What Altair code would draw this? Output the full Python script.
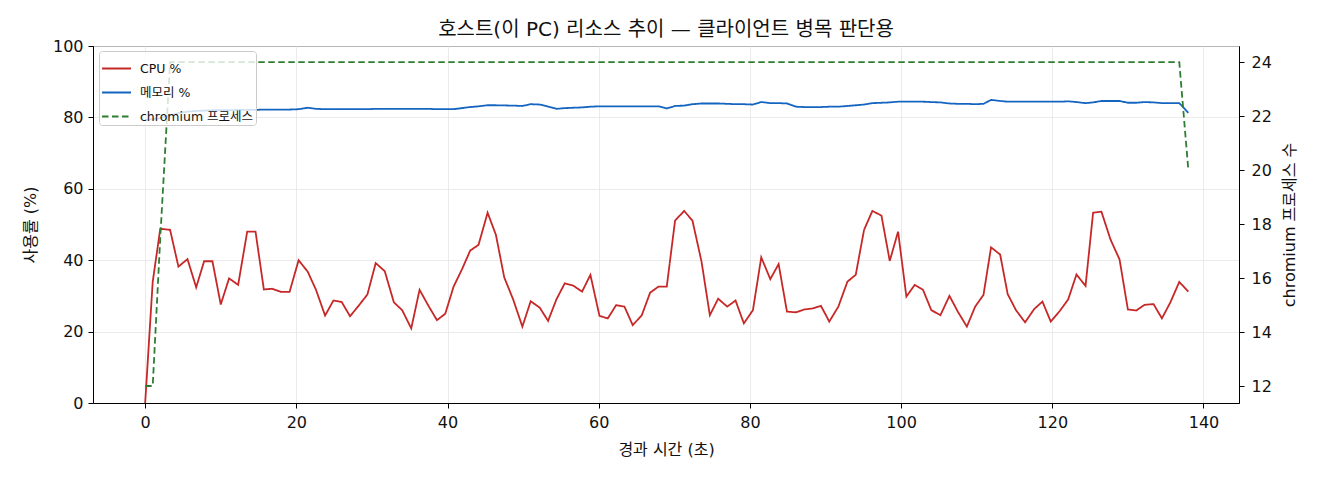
import altair as alt
import pandas as pd

# elapsed seconds of each sample
elapsed = [0.0, 1.0, 2.0, 3.3, 4.4, 5.6, 6.75, 7.8, 8.9, 10.0,
           11.1, 12.3, 13.5, 14.6, 15.7, 16.8, 18.0, 19.1, 20.3, 21.5,
           22.6, 23.8, 24.9, 26.0, 27.1, 28.3, 29.4, 30.5, 31.7, 32.9,
           34.0, 35.2, 36.3, 37.4, 38.6, 39.7, 40.8, 41.9, 43.0, 44.1,
           45.3, 46.4, 47.5, 48.7, 49.9, 51.0, 52.2, 53.3, 54.4, 55.5,
           56.6, 57.8, 58.9, 60.1, 61.2, 62.3, 63.4, 64.5, 65.7, 66.8,
           67.9, 69.0, 70.1, 71.3, 72.4, 73.6, 74.7, 75.8, 77.0, 78.1,
           79.2, 80.4, 81.5, 82.7, 83.8, 84.9, 86.1, 87.2, 88.3, 89.4,
           90.5, 91.7, 92.9, 94.0, 95.1, 96.2, 97.4, 98.5, 99.6, 100.7,
           101.8, 102.9, 104.0, 105.2, 106.4, 107.5, 108.7, 109.8, 110.9, 111.9,
           113.1, 114.1, 115.2, 116.4, 117.6, 118.7, 119.8, 121.0, 122.1, 123.2,
           124.4, 125.4, 126.5, 127.7, 128.9, 130.0, 131.1, 132.2, 133.4, 134.5,
           135.6, 136.8, 138.0]

cpu = [0.0, 34.0, 48.8, 48.5, 38.2, 40.3, 32.4, 39.7, 39.7, 27.6,
       34.9, 33.1, 48.0, 48.0, 31.8, 32.0, 31.1, 31.1, 40.0, 36.8,
       31.7, 24.5, 28.7, 28.3, 24.3, 27.4, 30.4, 39.2, 36.9, 28.2,
       26.0, 20.9, 31.7, 27.5, 23.2, 25.0, 32.6, 37.4, 42.7, 44.3,
       53.3, 47.1, 35.2, 28.9, 21.4, 28.5, 26.7, 23.0, 29.0, 33.5,
       32.9, 31.2, 35.9, 24.4, 23.7, 27.4, 27.0, 21.8, 24.6, 30.9,
       32.6, 32.6, 51.1, 53.8, 51.1, 39.6, 24.6, 29.2, 27.0, 28.7,
       22.3, 26.0, 40.8, 34.7, 38.9, 25.6, 25.4, 26.2, 26.5, 27.2,
       22.8, 27.0, 34.0, 35.9, 48.5, 53.8, 52.5, 39.8, 48.0, 29.8,
       33.1, 31.7, 26.0, 24.6, 30.0, 25.6, 21.4, 27.0, 30.3, 43.6,
       41.6, 30.5, 26.0, 22.6, 26.3, 28.4, 22.8, 25.8, 29.0, 36.0,
       32.8, 53.3, 53.6, 45.8, 40.2, 26.2, 25.9, 27.5, 27.7, 23.7,
       28.1, 33.9, 31.2]

mem = [79.3, 79.5, 79.8, 80.6, 81.2, 81.6, 81.8, 81.9, 82.0, 82.0,
       82.0, 82.1, 82.1, 82.1, 82.2, 82.2, 82.2, 82.2, 82.3, 82.7,
       82.4, 82.3, 82.3, 82.3, 82.3, 82.3, 82.3, 82.4, 82.4, 82.4,
       82.4, 82.4, 82.4, 82.4, 82.3, 82.3, 82.3, 82.6, 82.9, 83.1,
       83.4, 83.4, 83.35, 83.3, 83.2, 83.7, 83.6, 83.0, 82.4, 82.6,
       82.7, 82.8, 83.0, 83.1, 83.1, 83.1, 83.1, 83.1, 83.1, 83.1,
       83.1, 82.5, 83.2, 83.3, 83.7, 83.9, 83.9, 83.9, 83.8, 83.7,
       83.7, 83.6, 84.3, 84.0, 84.0, 83.9, 83.0, 82.9, 82.9, 82.9,
       83.0, 83.0, 83.2, 83.4, 83.6, 84.0, 84.1, 84.2, 84.4, 84.4,
       84.4, 84.4, 84.3, 84.2, 83.9, 83.8, 83.8, 83.7, 83.8, 84.9,
       84.6, 84.4, 84.4, 84.4, 84.4, 84.4, 84.4, 84.4, 84.5, 84.3,
       84.0, 84.2, 84.6, 84.6, 84.6, 84.1, 84.1, 84.3, 84.2, 84.0,
       84.0, 84.0, 81.3]

procs = [12, 12, 17.5] + [24] * 119 + [20]

series_names = ["CPU %", "메모리 %", "chromium 프로세스"]
series_colors = ["#c62828", "#1565c0", "#2e7d32"]
series_dash = [[1, 0], [1, 0], [6.5, 3.5]]

FONT = "DejaVu Sans, Noto Sans CJK KR"

left_df = pd.concat([
    pd.DataFrame({"t": elapsed, "value": cpu, "series": "CPU %"}),
    pd.DataFrame({"t": elapsed, "value": mem, "series": "메모리 %"}),
])
right_df = pd.DataFrame({"t": elapsed, "count": procs, "series": "chromium 프로세스"})

x_enc = alt.X("t:Q", title="경과 시간 (초)",
              scale=alt.Scale(domain=[-6.9, 144.7], nice=False, zero=False),
              axis=alt.Axis(values=list(range(0, 141, 20)), grid=True,
                            labelPadding=6, titlePadding=11))

color_enc = alt.Color("series:N", title=None,
                      scale=alt.Scale(domain=series_names, range=series_colors))
dash_enc = alt.StrokeDash("series:N", title=None,
                          scale=alt.Scale(domain=series_names, range=series_dash))

usage = alt.Chart(left_df).mark_line(strokeWidth=1.8).encode(
    x=x_enc,
    y=alt.Y("value:Q", title="사용률 (%)",
            scale=alt.Scale(domain=[0, 100], nice=False),
            axis=alt.Axis(values=list(range(0, 101, 20)), grid=True,
                          labelPadding=5, titlePadding=14)),
    color=color_enc,
    strokeDash=dash_enc,
)

processes = alt.Chart(right_df).mark_line(strokeWidth=1.8).encode(
    x=x_enc,
    y=alt.Y("count:Q", title="chromium 프로세스 수",
            scale=alt.Scale(domain=[11.37, 24.6], nice=False, zero=False),
            axis=alt.Axis(orient="right", values=list(range(12, 25, 2)), grid=False,
                          labelPadding=7, titleAngle=270, titleBaseline="top",
                          titlePadding=10)),
    color=color_enc,
    strokeDash=dash_enc,
)

chart = alt.layer(usage, processes).resolve_scale(
    y="independent"
).properties(
    width=1146,
    height=357,
    title=alt.TitleParams("호스트(이 PC) 리소스 추이 — 클라이언트 병목 판단용",
                          fontSize=20, fontWeight="normal", font=FONT,
                          color="#111", offset=2, dy=4),
    autosize=alt.AutoSizeParams(type="none"),
    padding={"left": 85, "top": 38, "right": 70, "bottom": 60},
).configure_view(
    stroke="black", strokeWidth=1
).configure_axis(
    labelFont=FONT, titleFont=FONT, labelFontSize=16, titleFontSize=16,
    titleFontWeight="normal", labelColor="#111", titleColor="#111",
    domainColor="black", tickColor="black", tickSize=5,
    gridColor="#e6e6e6", gridWidth=0.8,
).configure_legend(
    orient="none", legendX=6, legendY=5,
    labelFont=FONT, labelFontSize=12.5, labelColor="#111", labelOffset=8,
    symbolType="stroke", symbolSize=841, symbolStrokeWidth=2,
    fillColor="rgba(255,255,255,0.8)", strokeColor="#cccccc",
    cornerRadius=3, padding=2, rowPadding=2,
)

chart.save("out.html", embed_options={"renderer": "svg", "actions": False})
